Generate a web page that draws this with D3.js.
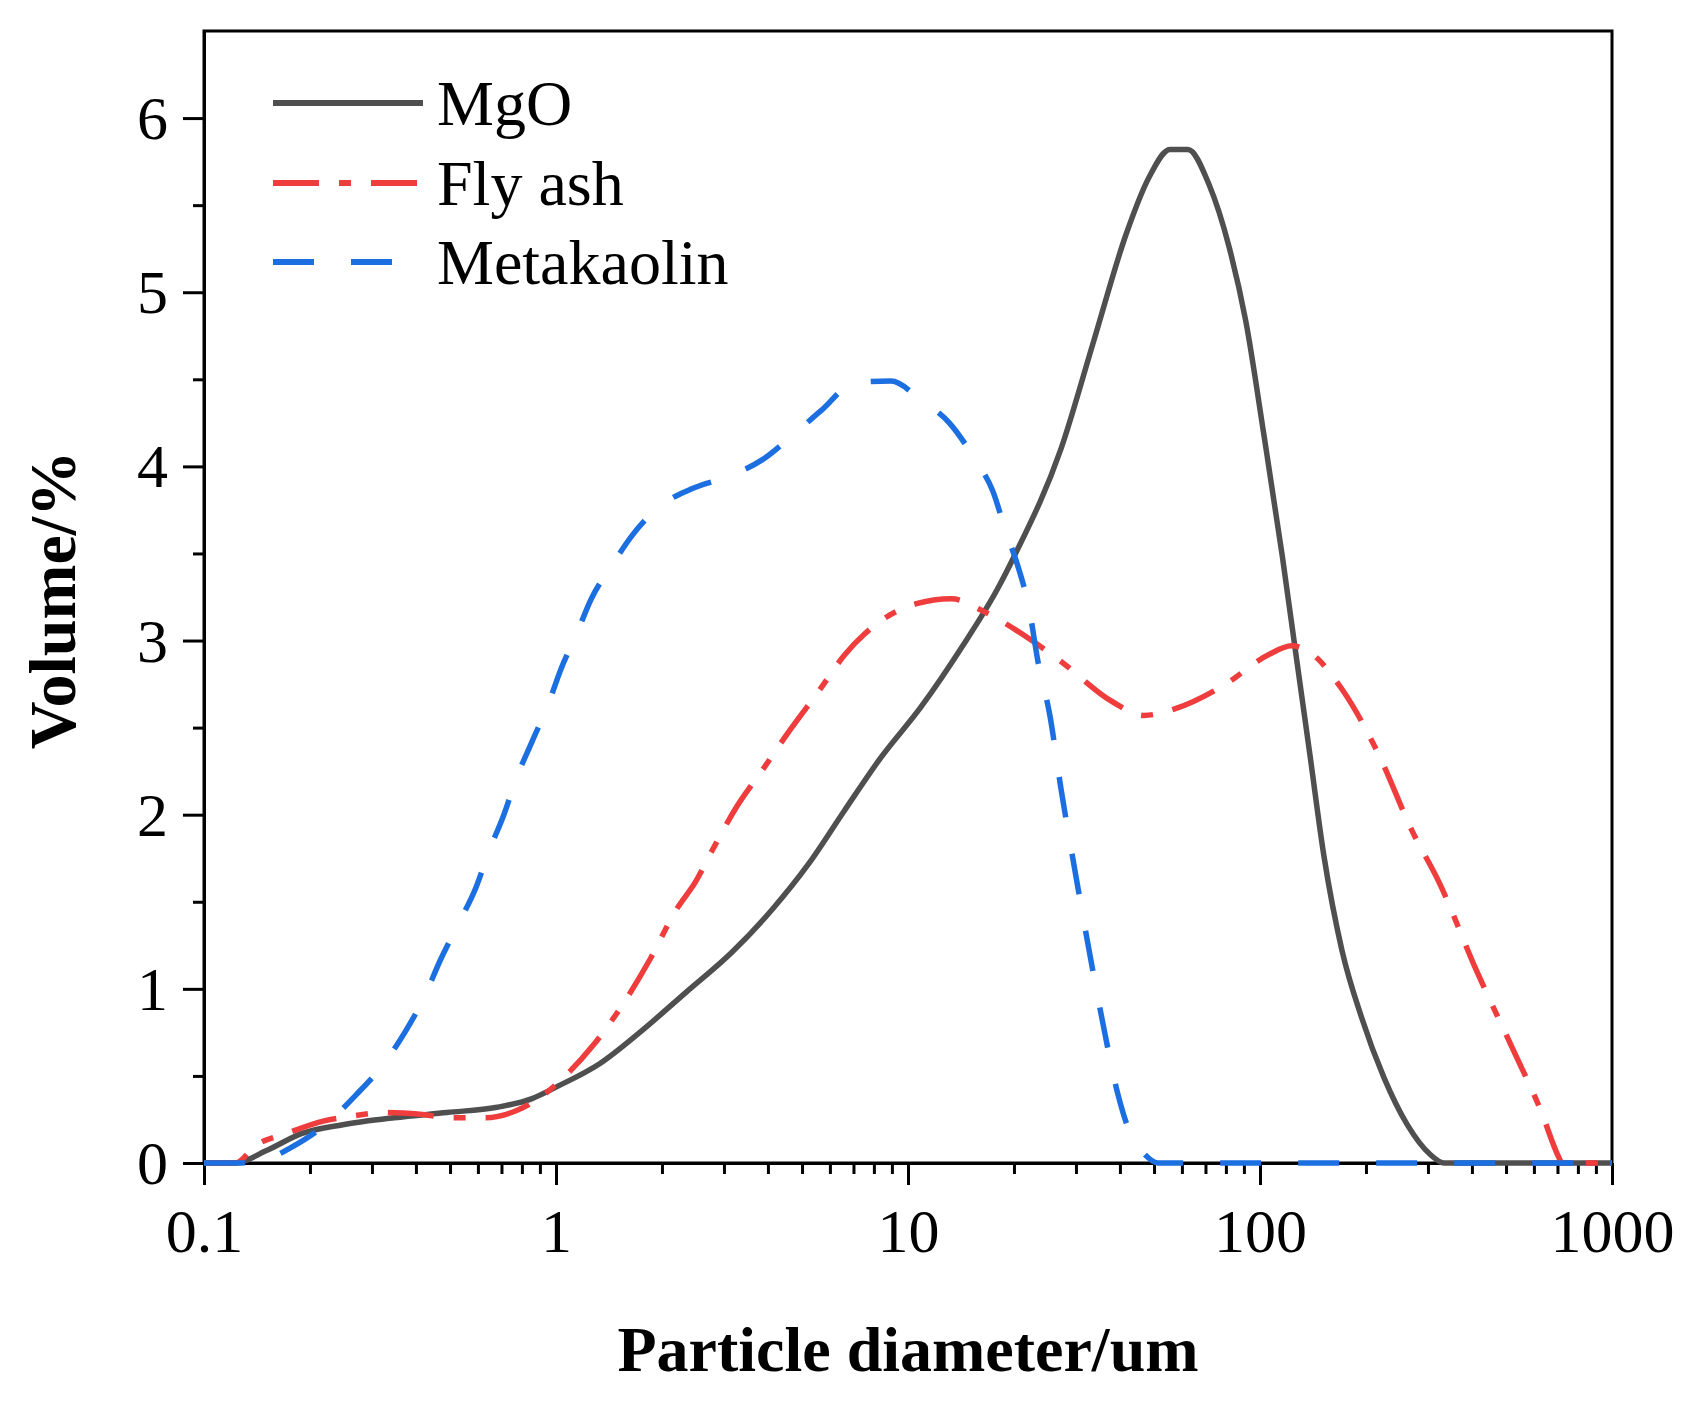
<!DOCTYPE html>
<html>
<head>
<meta charset="utf-8">
<script src="https://cdn.jsdelivr.net/npm/d3@7"></script>
<style>
  html, body { margin: 0; padding: 0; background: #ffffff; }
  svg { display: block; }
  text { font-family: "Liberation Serif", "Times New Roman", serif; fill: #000; }
</style>
</head>
<body>
<svg id="chart" width="1695" height="1404"></svg>
<script>
// ---- data ----
const seriesNames = ["MgO", "Fly ash", "Metakaolin"];

const mgoD = [0.1, 0.123, 0.15, 0.19, 0.248, 0.347, 0.49, 0.68, 0.855, 1.01, 1.33, 1.73, 2.34, 3.16, 4.13, 5.23, 6.58, 8.32, 10.9, 14.2, 18.0, 20.1, 27.2, 33.7, 41.6, 48.4, 55.5, 62.4, 71.6, 81.7, 91.2, 102.6, 115.6, 126.5, 138.7, 152, 171, 194, 225, 262, 304, 333, 1000];
const mgoV = [0, 0, 0.07, 0.17, 0.22, 0.26, 0.29, 0.32, 0.37, 0.44, 0.57, 0.75, 0.98, 1.21, 1.46, 1.72, 2.02, 2.32, 2.62, 2.96, 3.30, 3.49, 4.10, 4.72, 5.33, 5.66, 5.82, 5.82, 5.62, 5.26, 4.83, 4.18, 3.49, 2.92, 2.34, 1.76, 1.22, 0.84, 0.49, 0.22, 0.05, 0, 0];

const flyD = [0.1, 0.123, 0.14, 0.172, 0.218, 0.265, 0.324, 0.411, 0.50, 0.63, 0.77, 0.92, 1.05, 1.28, 1.57, 1.85, 2.19, 2.50, 2.77, 3.27, 3.87, 4.56, 5.58, 6.62, 7.55, 8.61, 10.5, 13.3, 16.3, 22.1, 27.2, 38, 46.8, 57.7, 78.5, 106, 123, 139, 171, 218, 270, 323, 411, 524, 628, 707, 720, 1000];
const flyV = [0, 0, 0.10, 0.17, 0.24, 0.27, 0.29, 0.28, 0.26, 0.26, 0.30, 0.39, 0.49, 0.68, 0.93, 1.17, 1.45, 1.62, 1.79, 2.05, 2.26, 2.47, 2.71, 2.92, 3.04, 3.13, 3.21, 3.24, 3.17, 3.01, 2.88, 2.65, 2.57, 2.61, 2.74, 2.92, 2.97, 2.93, 2.72, 2.34, 1.91, 1.61, 1.11, 0.65, 0.30, 0.03, 0, 0];

const metaD = [0.1, 0.125, 0.15, 0.177, 0.221, 0.27, 0.324, 0.372, 0.424, 0.468, 0.527, 0.592, 0.645, 0.711, 0.772, 0.855, 0.949, 1.03, 1.14, 1.26, 1.44, 1.64, 1.97, 2.42, 3.16, 3.87, 4.71, 5.66, 7.06, 8.95, 10.9, 13.1, 15.5, 17.4, 19.0, 20.5, 22.1, 23.4, 25.3, 27.2, 29.8, 32.7, 35.8, 39.3, 42.8, 47, 51.3, 1000];
const metaV = [0, 0, 0.02, 0.09, 0.22, 0.39, 0.57, 0.75, 0.96, 1.16, 1.37, 1.58, 1.79, 2.00, 2.21, 2.42, 2.63, 2.83, 3.03, 3.24, 3.43, 3.60, 3.77, 3.87, 3.95, 4.04, 4.18, 4.32, 4.48, 4.49, 4.38, 4.25, 4.04, 3.86, 3.62, 3.43, 3.18, 2.88, 2.57, 2.15, 1.68, 1.22, 0.80, 0.41, 0.17, 0.05, 0, 0];

const xMajorTicks = [0.1, 1, 10, 100, 1000];
const xTickLabels = ["0.1", "1", "10", "100", "1000"];
const yMajorTicks = [0, 1, 2, 3, 4, 5, 6];
const yMinorTicks = [0.5, 1.5, 2.5, 3.5, 4.5, 5.5];

const xTitle = "Particle diameter/um";
const yTitle = "Volume/%";

// ---- layout ----
const svg = d3.select("#chart");
const L = 204, R = 1612, T = 31, B = 1163;

const x = d3.scaleLog().domain([0.1, 1000]).range([L, R]);
const y = d3.scaleLinear().domain([0, 6.5]).range([B, T]);

const xMinorTicks = [];
[0.1, 1, 10, 100].forEach(dec => { for (let k = 2; k <= 9; k++) xMinorTicks.push(+(dec * k).toPrecision(3)); });

// frame
svg.append("rect")
  .attr("x", L).attr("y", T).attr("width", R - L).attr("height", B - T)
  .attr("fill", "none").attr("stroke", "#000").attr("stroke-width", 3);

// x axis
const gx = svg.append("g").attr("transform", `translate(0,${B})`)
  .call(d3.axisBottom(x).tickValues(xMajorTicks).tickSize(22).tickSizeOuter(0)
    .tickFormat((d, i) => xTickLabels[i]));
const gxm = svg.append("g").attr("transform", `translate(0,${B})`)
  .call(d3.axisBottom(x).tickValues(xMinorTicks).tickSize(11).tickSizeOuter(0).tickFormat(""));
[gx, gxm].forEach(g => {
  g.select(".domain").attr("stroke", "#000").attr("stroke-width", 3);
  g.selectAll(".tick line").attr("stroke", "#000").attr("stroke-width", 3);
});
gx.selectAll(".tick text")
  .attr("y", 0).attr("dy", 0)
  .attr("transform", "translate(0,89)")
  .style("font-family", '"Liberation Serif", "Times New Roman", serif')
  .style("font-size", "62px").attr("fill", "#000");

// y axis
const gy = svg.append("g").attr("transform", `translate(${L},0)`)
  .call(d3.axisLeft(y).tickValues(yMajorTicks).tickSize(21).tickSizeOuter(0).tickFormat(d3.format("d")));
const gym = svg.append("g").attr("transform", `translate(${L},0)`)
  .call(d3.axisLeft(y).tickValues(yMinorTicks).tickSize(11).tickSizeOuter(0).tickFormat(""));
[gy, gym].forEach(g => {
  g.select(".domain").attr("stroke", "#000").attr("stroke-width", 3);
  g.selectAll(".tick line").attr("stroke", "#000").attr("stroke-width", 3);
});
gy.selectAll(".tick text")
  .attr("x", -36).attr("dy", "0.33em")
  .style("font-family", '"Liberation Serif", "Times New Roman", serif')
  .style("font-size", "62px").attr("fill", "#000");

// axis titles
svg.append("text")
  .attr("x", (L + R) / 2).attr("y", 1371)
  .attr("text-anchor", "middle")
  .style("font-size", "64px").style("font-weight", "bold")
  .text(xTitle);
svg.append("text")
  .attr("transform", "translate(75,600) rotate(-90)")
  .attr("text-anchor", "middle")
  .style("font-size", "66px").style("font-weight", "bold")
  .text(yTitle);

// ---- curves ----
const colors = ["#4f4f4f", "#ef3d3d", "#1c6fe0"];
const dashes = [null, "46,20,12,20", "41,37"];
const seriesData = [
  mgoD.map((d, i) => [d, mgoV[i]]),
  flyD.map((d, i) => [d, flyV[i]]),
  metaD.map((d, i) => [d, metaV[i]])
];
const line = d3.line().x(d => x(d[0])).y(d => y(d[1])).curve(d3.curveMonotoneX);

[0, 1, 2].forEach(i => {
  svg.append("path")
    .datum(seriesData[i])
    .attr("d", line)
    .attr("fill", "none")
    .attr("stroke", colors[i])
    .attr("stroke-width", 5.5)
    .attr("stroke-dasharray", dashes[i])
    .attr("stroke-linejoin", "round");
});

// ---- legend ----
const legY = [103, 183, 262];
const legEnd = [423, 417, 392];
seriesNames.forEach((name, i) => {
  svg.append("line")
    .attr("x1", 273).attr("x2", legEnd[i])
    .attr("y1", legY[i]).attr("y2", legY[i])
    .attr("stroke", colors[i]).attr("stroke-width", 6)
    .attr("stroke-dasharray", dashes[i]);
  svg.append("text")
    .attr("x", 437).attr("y", legY[i] + 22)
    .style("font-size", "64px")
    .text(name);
});
</script>
</body>
</html>
